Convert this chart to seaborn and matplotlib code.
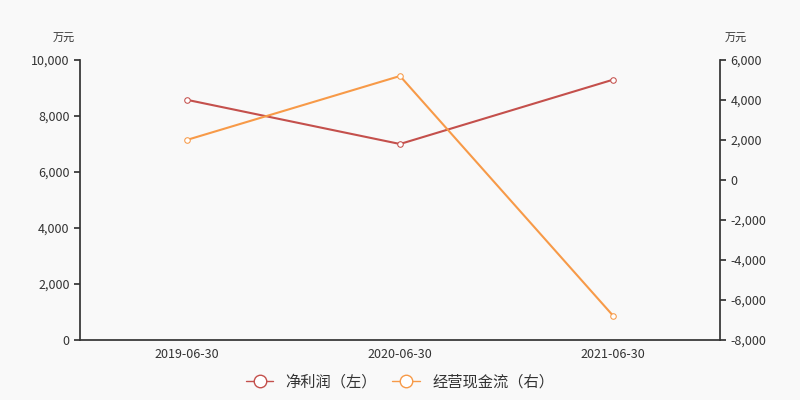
import matplotlib
matplotlib.use("Agg")
import matplotlib.pyplot as plt
import seaborn as sns
import pandas as pd
from matplotlib.lines import Line2D

dates = ["2019-06-30", "2020-06-30", "2021-06-30"]
net_profit = [8580, 7000, 9300]
op_cash = [2000, 5200, -6800]

sns.set_theme(style="white")
plt.rcParams['font.family'] = ['Noto Sans CJK SC', 'DejaVu Sans']
bg = "#f9f9f9"
red = "#c4504c"
orange = "#f79a48"

fig = plt.figure(figsize=(8, 4), dpi=100, facecolor=bg)
ax = fig.add_axes([0.1, 0.15, 0.8, 0.7], facecolor=bg)
ax2 = ax.twinx()
x = [0.5, 1.5, 2.5]
df = pd.DataFrame({"x": x, "np": net_profit, "oc": op_cash})
sns.lineplot(data=df, x="x", y="np", ax=ax, color=red, lw=1.5, marker="o",
             markersize=4, markerfacecolor="white", markeredgecolor=red)
sns.lineplot(data=df, x="x", y="oc", ax=ax2, color=orange, lw=1.5, marker="o",
             markersize=4, markerfacecolor="white", markeredgecolor=orange)
ax.set_xlim(0, 3)
ax.set_ylim(0, 10000)
ax2.set_ylim(-8000, 6000)
ax.set_yticks(range(0, 10001, 2000))
ax2.set_yticks(range(-8000, 6001, 2000))
ax.set_yticklabels([f"{v:,}" for v in range(0, 10001, 2000)], fontsize=9, color="#333")
ax2.set_yticklabels([f"{v:,}" for v in range(-8000, 6001, 2000)], fontsize=9, color="#333")
ax.set_xticks([0, 1, 2, 3])
ax.set_xticklabels([])
ax.set_xticks(x, minor=True)
ax.set_xticklabels(dates, minor=True, fontsize=9, color="#333")
ax.tick_params(axis="x", which="minor", length=0, pad=6)
ax.tick_params(axis="x", which="major", length=4, color="#333", direction="out")
ax.tick_params(axis="y", length=4, color="#333", direction="out", left=True)
ax2.tick_params(axis="y", length=4, color="#333", direction="out", right=True)
for a in (ax, ax2):
    a.set_xlabel(""); a.set_ylabel("")
    for s in a.spines.values():
        s.set_visible(False)
    a.grid(False)
ax.spines["left"].set_visible(True); ax.spines["left"].set_color("#333")
ax.spines["bottom"].set_visible(True); ax.spines["bottom"].set_color("#333")
ax2.spines["right"].set_visible(True); ax2.spines["right"].set_color("#333")
fig.text(0.08, 0.895, "万元", fontsize=8, ha="center", color="#333")
fig.text(0.92, 0.895, "万元", fontsize=8, ha="center", color="#333")
handles = [Line2D([], [], color=red, marker="o", markersize=9, markerfacecolor="white", lw=1),
           Line2D([], [], color=orange, marker="o", markersize=9, markerfacecolor="white", lw=1)]
fig.legend(handles, ["净利润（左）", "经营现金流（右）"], loc="lower center",
           bbox_to_anchor=(0.5, -0.01), ncol=2, frameon=False, fontsize=11,
           handlelength=1.8, columnspacing=1.0, labelcolor="#333")
fig.savefig("out.png", facecolor=bg)
